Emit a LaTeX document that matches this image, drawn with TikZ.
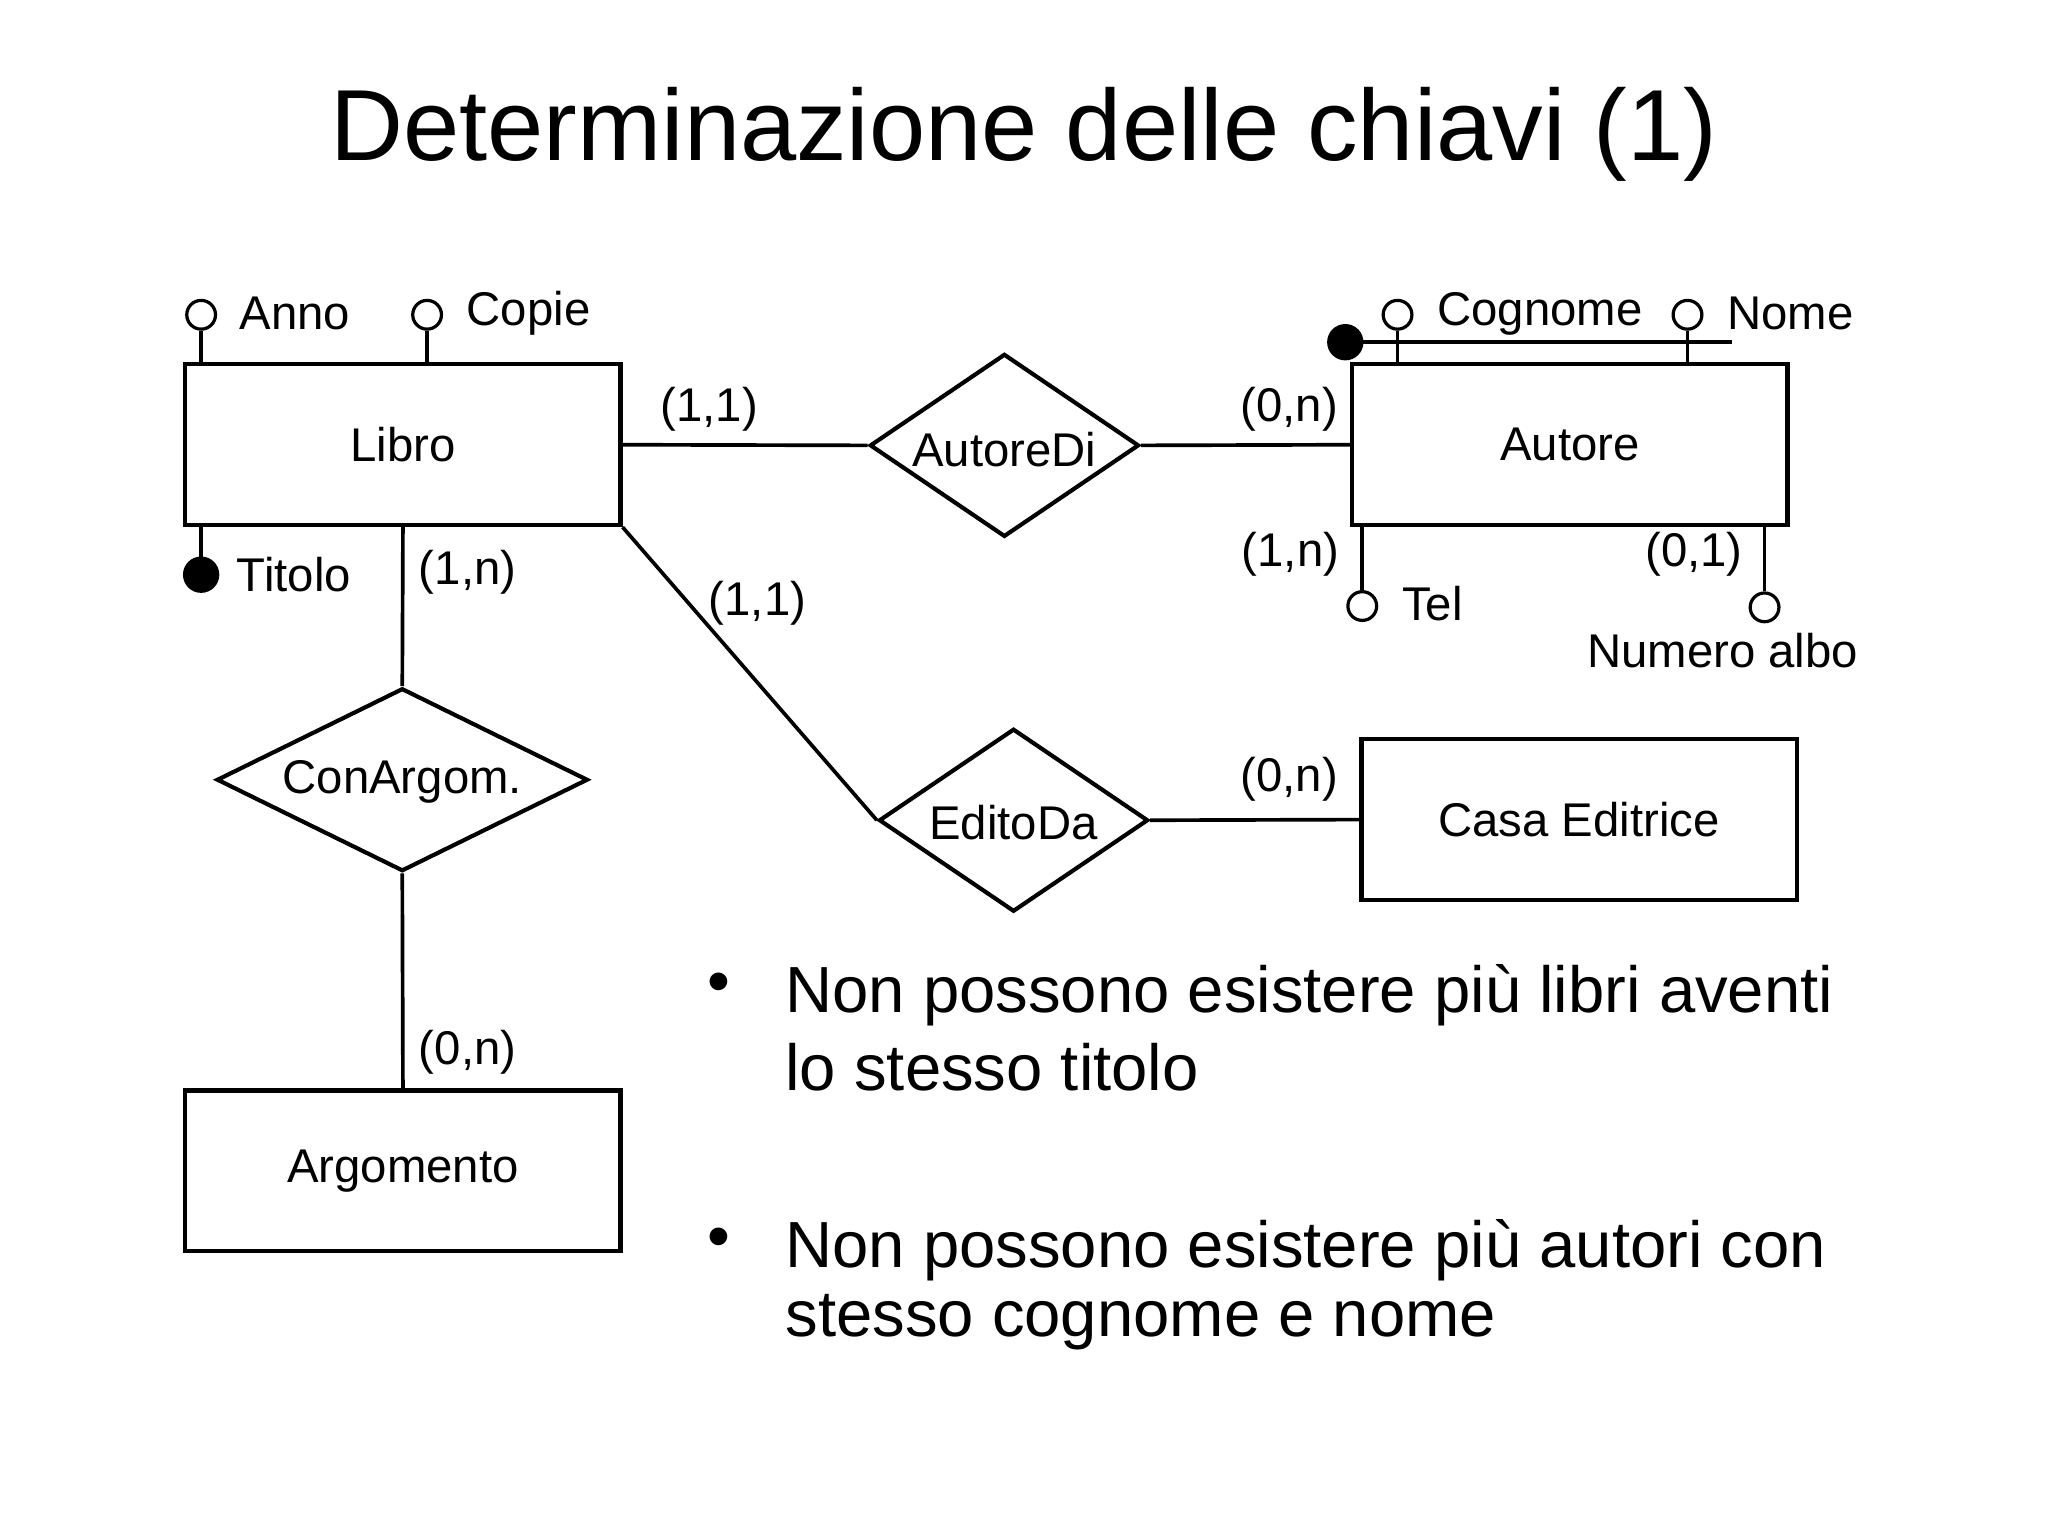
\documentclass[tikz,border=0pt]{standalone}
\usepackage{fontspec}
\setmainfont{Liberation Sans}
\usetikzlibrary{shapes.geometric}
\begin{document}
\begin{tikzpicture}[x=0.01cm,y=-0.01cm,
 ent/.style={draw,line width=0.9pt,minimum width=3.33cm,minimum height=1.23cm,inner sep=0,font=\fontsize{10.3}{12}\selectfont},
 rel/.style={draw,diamond,line width=0.9pt,aspect=1.47,inner sep=0,font=\fontsize{10.3}{12}\selectfont},
 lbl/.style={font=\fontsize{10.3}{12}\selectfont,inner sep=0},
 att/.style={circle,draw,line width=0.7pt,minimum size=0.22cm,inner sep=0,fill=white},
 key/.style={circle,draw,fill=black,minimum size=0.25cm,inner sep=0},
 every path/.style={line width=0.8pt}]
\useasboundingbox (0,0) rectangle (1568,1176);
\node[font=\fontsize{22}{26}\selectfont] (title) at (784,103) {Determinazione delle chiavi (1)};
% entities
\node[ent] (libro) at (308.5,340.5) {Libro};
\node[ent] (arg) at (308.5,896.5) {Argomento};
\node[ent] (autore) at (1202,340.5) {Autore};
\node[ent] (casa) at (1209,627.5) {Casa Editrice};
% relationships
\node[rel,minimum width=2.84cm,minimum height=1.40cm] (conarg) at (308,597) {};
\node[lbl] at (308,599) {ConArgom.};
\node[rel,minimum width=2.06cm,minimum height=1.40cm] (autdi) at (769,341) {};
\node[lbl] at (769,344) {AutoreDi};
\node[rel,minimum width=2.06cm,minimum height=1.40cm] (edito) at (776,628) {};
\node[lbl] at (776,630) {EditoDa};
% connectors
\draw (libro.east) -- (autdi.west);
\draw (autdi.east) -- (autore.west);
\draw (libro.south) -- (conarg.north);
\draw (conarg.south) -- (arg.north);
\draw (libro.south east) -- (edito.west);
\draw (edito.east) -- (casa.west);
% cardinalities
\node[lbl] at (543,313) {(1,1)};
\node[lbl] at (987,313) {(0,n)};
\node[lbl] at (358,438) {(1,n)};
\node[lbl] at (358,806) {(0,n)};
\node[lbl] at (580,462) {(1,1)};
\node[lbl] at (987,597) {(0,n)};
\node[lbl] at (988,424) {(1,n)};
\node[lbl] at (1297,424) {(0,1)};
% Libro attributes
\coordinate (annob) at (154,279);
\coordinate (copieb) at (327,279);
\coordinate (titb) at (154,402);
\node[att] (anno) at (154,241) {};
\node[att] (copie) at (327,241) {};
\node[key] (titolo) at (154,440) {};
\draw (anno) -- (annob);
\draw (copie) -- (copieb);
\draw (titolo) -- (titb);
\node[lbl,anchor=west] at (182,240) {Anno};
\node[lbl,anchor=west] at (356,240) {Copie};
\node[lbl,anchor=west] at (180,440) {Titolo};
% Autore attributes
\node[key] (k) at (1030,262) {};
\coordinate (kend) at (1326,262);
\coordinate (cogb) at (1070,279);
\coordinate (nomb) at (1292,279);
\node[att] (cog) at (1070,241) {};
\node[att] (nom) at (1292,241) {};
\draw (k.center) -- (kend);
\draw (cog) -- (cogb);
\draw (nom) -- (nomb);
\node[lbl,anchor=west] at (1099,240) {Cognome};
\node[lbl,anchor=west] at (1321,240) {Nome};
\coordinate (telt) at (1043,402);
\coordinate (numt) at (1351,402);
\node[att] (tel) at (1043,464) {};
\node[att] (num) at (1351,465) {};
\draw (tel) -- (telt);
\draw (num) -- (numt);
\node[lbl,anchor=west] at (1072,462) {Tel};
\node[lbl] at (1319,498) {Numero albo};
% bullets
\begin{scope}[every node/.style={font=\fontsize{14.2}{15.6}\selectfont,inner sep=0,anchor=west}]
\node (b1) at (540,757) {•};
\node (t1) at (600,762) {Non possono esistere più libri aventi};
\node (t1b) at (600,817) {lo stesso titolo};
\node (b2) at (540,952) {•};
\node (t2) at (600,957) {Non possono esistere più autori con};
\node (t2b) at (600,1012) {stesso cognome e nome};
\end{scope}
\end{tikzpicture}
\end{document}
